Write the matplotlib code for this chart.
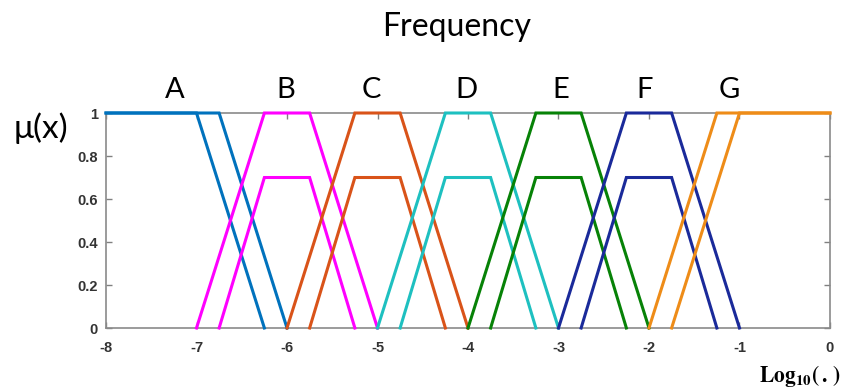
import matplotlib.pyplot as plt

# membership functions: x breakpoints and mu values for each set
LABELS = ['A', 'B', 'C', 'D', 'E', 'F', 'G']
COLORS = ['#0072BD', '#FF00FF', '#D95319', '#1EC0C0', '#078207', '#1A2A9A', '#EE8C18']

# outer curves (peak 1)
OUTER_X = [
    [-8, -7.0, -6.25],
    [-7.0, -6.25, -5.75, -5.0],
    [-6.0, -5.25, -4.75, -4.0],
    [-5.0, -4.25, -3.75, -3.0],
    [-4.0, -3.25, -2.75, -2.0],
    [-3.0, -2.25, -1.75, -1.0],
    [-2.0, -1.25, 0],
]
OUTER_Y = [
    [1, 1, 0],
    [0, 1, 1, 0],
    [0, 1, 1, 0],
    [0, 1, 1, 0],
    [0, 1, 1, 0],
    [0, 1, 1, 0],
    [0, 1, 1],
]

# inner curves (peak 0.7, shoulders stay at 1)
INNER_X = [
    [-8, -6.75, -6.0],
    [-6.75, -6.25, -5.75, -5.25],
    [-5.75, -5.25, -4.75, -4.25],
    [-4.75, -4.25, -3.75, -3.25],
    [-3.75, -3.25, -2.75, -2.25],
    [-2.75, -2.25, -1.75, -1.25],
    [-1.75, -1.0, 0],
]
INNER_Y = [
    [1, 1, 0],
    [0, 0.7, 0.7, 0],
    [0, 0.7, 0.7, 0],
    [0, 0.7, 0.7, 0],
    [0, 0.7, 0.7, 0],
    [0, 0.7, 0.7, 0],
    [0, 1, 1],
]

LABEL_X = [-7.24, -6.01, -5.07, -4.02, -2.98, -2.05, -1.11]

X_TICKS = [-8, -7, -6, -5, -4, -3, -2, -1, 0]
Y_TICKS = [0, 0.2, 0.4, 0.6, 0.8, 1]
Y_TICK_LABELS = ['0', '0.2', '0.4', '0.6', '0.8', '1']

plt.rcParams['mathtext.fontset'] = 'stix'

fig = plt.figure(figsize=(8.44, 3.89), dpi=100)
ax = fig.add_axes([0.1256, 0.1568, 0.8578, 0.5527])

for i in range(len(LABELS)):
    ax.plot(OUTER_X[i], OUTER_Y[i], color=COLORS[i], lw=2.2, solid_joinstyle='miter', clip_on=False, zorder=3)
    ax.plot(INNER_X[i], INNER_Y[i], color=COLORS[i], lw=2.2, solid_joinstyle='miter', clip_on=False, zorder=3)
    ax.text(LABEL_X[i], 1.105, LABELS[i], ha='center', va='center',
            fontsize=21, family='Lato', color='black')

ax.set_xlim(-8, 0)
ax.set_ylim(0, 1)
ax.set_xticks(X_TICKS)
ax.set_xticklabels([str(t) for t in X_TICKS])
ax.set_yticks(Y_TICKS)
ax.set_yticklabels(Y_TICK_LABELS)
ax.tick_params(direction='in', length=4, width=1, color='#808080', top=True, right=True,
               labelsize=10.5, labelcolor='#333333')
ax.tick_params(axis='x', pad=9)
ax.tick_params(axis='y', pad=6)
for lab in ax.get_xticklabels() + ax.get_yticklabels():
    lab.set_fontweight('bold')
    lab.set_family('Liberation Sans')
for s in ax.spines.values():
    s.set_color('#8a8a8a')
    s.set_linewidth(1.2)

fig.text(0.541, 0.93, 'Frequency', ha='center', va='center', fontsize=23, family='Lato')
fig.text(0.049, 0.671, r'μ(x)', ha='center', va='center', fontsize=24, family='Lato')
fig.text(0.948, 0.033, r'$\mathbf{Log_{10}(\,.\,)}$', ha='center', va='center', fontsize=15.5)

fig.savefig('out.png', dpi=100)
